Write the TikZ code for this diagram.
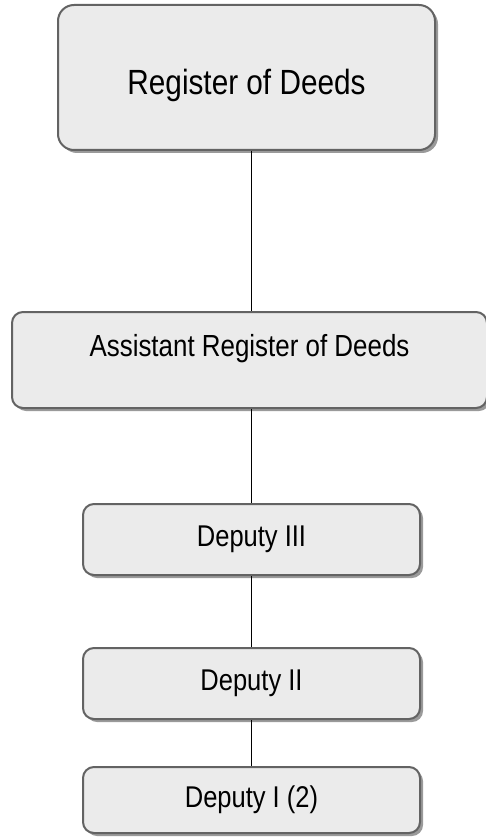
\documentclass[tikz,border=0pt]{standalone}
\usepackage{fontspec}
\setmainfont{Liberation Sans}[FakeStretch=0.85]
\usepackage{tikz}
\usetikzlibrary{positioning}
\usetikzlibrary{shadows}

\definecolor{boxfill}{HTML}{EBEBEB}
\definecolor{boxline}{HTML}{636363}
\definecolor{boxshade}{HTML}{9A9A9A}

\begin{document}
\begin{tikzpicture}[x=1pt, y=-1pt,
		orgbox/.style={rectangle, rounded corners=11pt, draw=boxline, line width=2pt, fill=boxfill,
			drop shadow={shadow xshift=3pt, shadow yshift=-3pt, fill=boxshade, opacity=1}, inner sep=2pt},
		link/.style={line width=1.8pt, black}]
				\useasboundingbox (0,0) rectangle (486,837);
				
				\node[orgbox, rounded corners=16pt, minimum width=377pt, minimum height=145pt, text height=38pt, text depth=3pt,
					font=\fontsize{35}{38}\selectfont] (reg) at (246.5,77.5) {Register of Deeds};
				\node[orgbox, minimum width=475pt, minimum height=96pt, text height=22pt, text depth=30pt,
					font=\fontsize{30.5}{33}\selectfont] (asst) at (249.5,360) {Assistant Register of Deeds};
				\node[orgbox, minimum width=337pt, minimum height=71pt, font=\fontsize{30}{33}\selectfont] (dep3) at (251.5,539.5) {Deputy III};
				\node[orgbox, minimum width=337pt, minimum height=71pt, font=\fontsize{30}{33}\selectfont] (dep2) at (251.5,683.5) {Deputy II};
				\node[orgbox, minimum width=337pt, minimum height=66pt, font=\fontsize{30}{33}\selectfont] (dep1) at (251.5,800) {Deputy I (2)};
				
				\draw[link] (dep3.north |- reg.south) -- (dep3.north |- asst.north);
				\draw[link] (dep3.north |- asst.south) -- (dep3.north);
				\draw[link] (dep3.south) -- (dep2.north);
				\draw[link] (dep2.south) -- (dep1.north);
			\end{tikzpicture}
\end{document}
